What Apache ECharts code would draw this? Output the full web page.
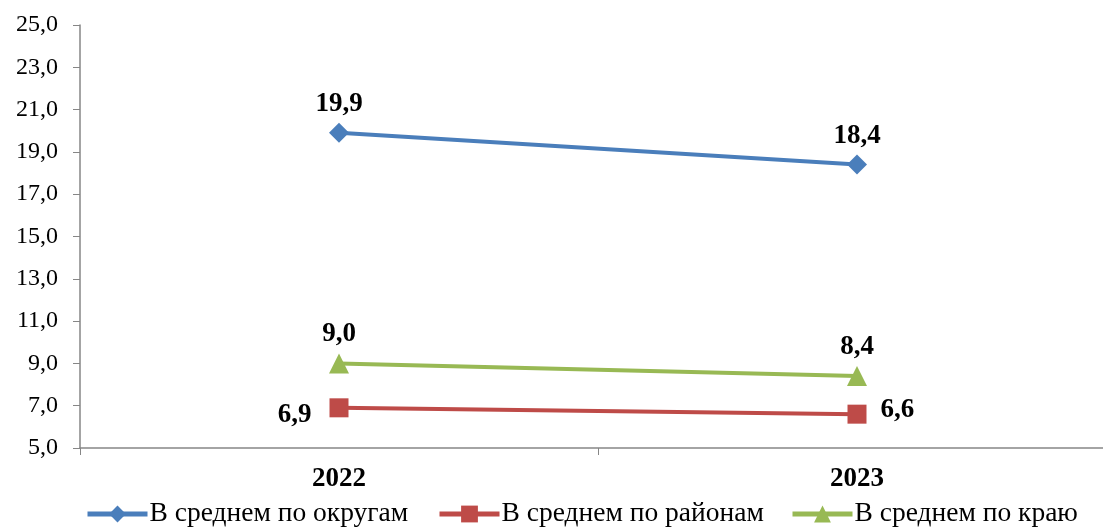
<!DOCTYPE html>
<html><head><meta charset="utf-8">
<script src="https://cdn.jsdelivr.net/npm/echarts@6/dist/echarts.min.js"></script>
<style>html,body{margin:0;padding:0;background:#fff;overflow:hidden}#c{width:1116px;height:527px}</style>
</head><body><div id="c"></div>
<script>
const categories = ['2022', '2023'];
const okrugValues = [19.9, 18.4];
const rayonValues = [6.9, 6.6];
const krayValues = [9.0, 8.4];
const seriesNames = ['В среднем по округам', 'В среднем по районам', 'В среднем по краю'];

const fmt = v => v.toFixed(1).replace('.', ',');
const chart = echarts.init(document.getElementById('c'));
const font = '"Liberation Serif", "Times New Roman", serif';
const lbl = (pos, dist) => ({show: true, position: pos, distance: dist, formatter: p => fmt(p.value), fontFamily: font, fontWeight: 'bold', fontSize: 27, color: '#000'});
const legendLefts = [85, 437, 790];
const legendOf = (name, i) => ({
  bottom: -1, left: legendLefts[i], padding: 0, itemWidth: 60, itemHeight: 21,
  textStyle: {fontFamily: font, fontSize: 27.5, color: '#000', padding: [0, 0, 0, -3]},
  lineStyle: {width: 5},
  data: [name]
});
chart.setOption({
  animation: false,
  grid: {left: 80, right: 0, top: 25, bottom: 79},
  legend: seriesNames.map(legendOf),
  xAxis: {
    type: 'category', data: categories, boundaryGap: true,
    axisLine: {lineStyle: {color: '#868686', width: 1.5}},
    axisTick: {show: true, inside: false, length: 7, lineStyle: {color: '#868686'}},
    axisLabel: {fontFamily: font, fontWeight: 'bold', fontSize: 27, color: '#000', margin: 18}
  },
  yAxis: {
    type: 'value', min: 5, max: 25, interval: 2,
    axisLine: {show: true, lineStyle: {color: '#868686', width: 1.5}},
    axisTick: {show: true, length: 7, lineStyle: {color: '#868686'}},
    splitLine: {show: false},
    axisLabel: {formatter: v => fmt(v), fontFamily: font, fontSize: 24, color: '#000', margin: 22}
  },
  series: [
    {name: seriesNames[0], type: 'line', data: okrugValues, symbol: 'diamond', symbolSize: 20,
     itemStyle: {color: '#4a7ebb'}, lineStyle: {width: 4, color: '#4a7ebb'}, label: lbl('top', 5)},
    {name: seriesNames[1], type: 'line', symbol: 'rect', symbolSize: 19,
     data: [
       {value: rayonValues[0], label: {position: 'left', offset: [0, 7]}},
       {value: rayonValues[1], label: {position: 'right', distance: 14, offset: [0, -4]}}
     ],
     itemStyle: {color: '#be4b48'}, lineStyle: {width: 4, color: '#be4b48'}, label: lbl('left', 18)},
    {name: seriesNames[2], type: 'line', data: krayValues, symbol: 'triangle', symbolSize: 20,
     itemStyle: {color: '#98b954'}, lineStyle: {width: 4, color: '#98b954'}, label: lbl('top', 6)}
  ]
});
</script></body></html>
